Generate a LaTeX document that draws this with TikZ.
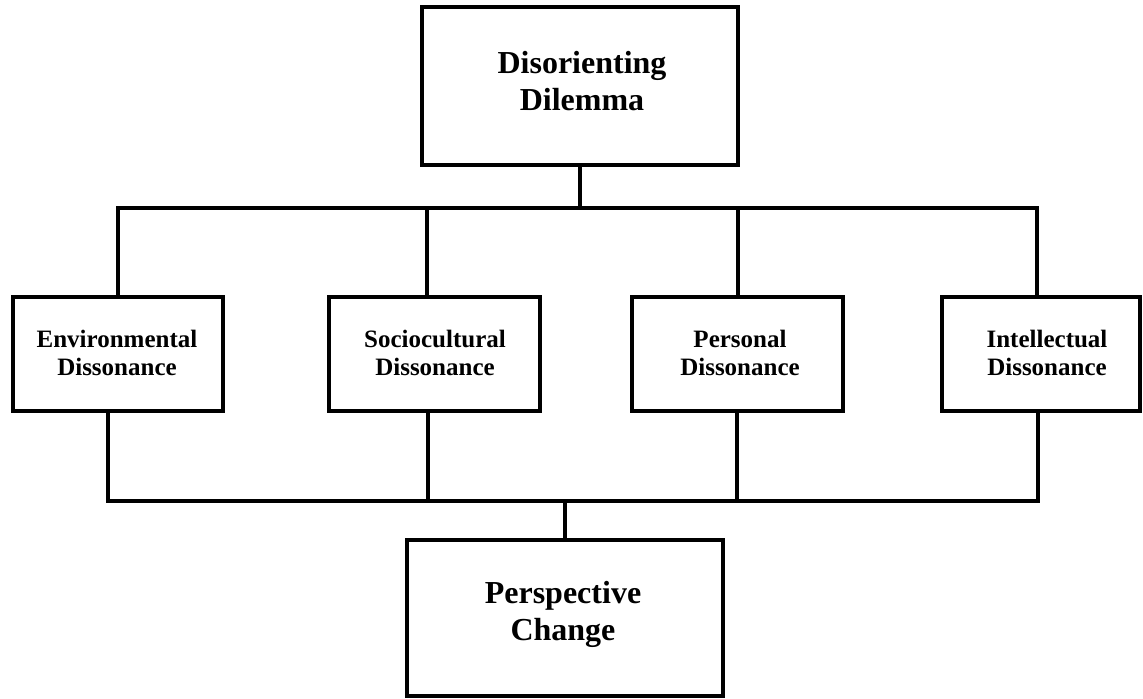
\documentclass[tikz,border=0pt]{standalone}
\usepackage{fontspec}
\setmainfont{Liberation Serif}
\begin{document}
\begin{tikzpicture}[x=0.5pt,y=-0.5pt,
  box/.style={draw=black, line width=2pt, rectangle, inner sep=0pt},
  bigtxt/.style={font=\fontsize{16}{18.5}\selectfont\bfseries, align=center, inner sep=0pt},
  midtxt/.style={font=\fontsize{12.5}{14}\selectfont\bfseries, align=center, inner sep=0pt},
  conn/.style={draw=black, line width=2pt, line join=miter}]
\useasboundingbox (0,0) rectangle (1143,698);
% boxes
\node[box, minimum width=158pt, minimum height=79pt] (top) at (580,86) {};
\node[bigtxt] (toptxt) at (582,81) {Disorienting\\Dilemma};
\node[box, minimum width=105pt, minimum height=57pt] (b1) at (118,354) {};
\node[box, minimum width=105.5pt, minimum height=57pt] (b2) at (434.5,354) {};
\node[box, minimum width=105.5pt, minimum height=57pt] (b3) at (737.5,354) {};
\node[box, minimum width=99pt, minimum height=57pt] (b4) at (1041,354) {};
\node[midtxt] (t1) at (117,353) {Environmental\\Dissonance};
\node[midtxt] (t2) at (435,353) {Sociocultural\\Dissonance};
\node[midtxt] (t3) at (740,353) {Personal\\Dissonance};
\node[midtxt] (t4) at (1047,353) {Intellectual\\Dissonance};
\node[box, minimum width=158pt, minimum height=78pt] (bot) at (565,618) {};
\node[bigtxt] (bottxt) at (563,614) {Perspective\\Change};
% junction coordinates
\coordinate (d1) at (118,208);
\coordinate (d2) at (427,208);
\coordinate (d3) at (738,208);
\coordinate (d4) at (1037,208);
\coordinate (e1) at (108,501);
\coordinate (e2) at (428,501);
\coordinate (e3) at (737,501);
\coordinate (e4) at (1038,501);
% top connectors
\draw[conn] (top.south) -- (top.south |- d1);
\draw[conn] (b1.north -| d1) -- (d1) -- (d4) -- (b4.north -| d4);
\draw[conn] (d2) -- (b2.north -| d2);
\draw[conn] (d3) -- (b3.north -| d3);
% bottom connectors
\draw[conn] (b1.south -| e1) -- (e1) -- (e4) -- (b4.south -| e4);
\draw[conn] (b2.south -| e2) -- (e2);
\draw[conn] (b3.south -| e3) -- (e3);
\draw[conn] (bot.north) -- (bot.north |- e1);
\end{tikzpicture}
\end{document}
